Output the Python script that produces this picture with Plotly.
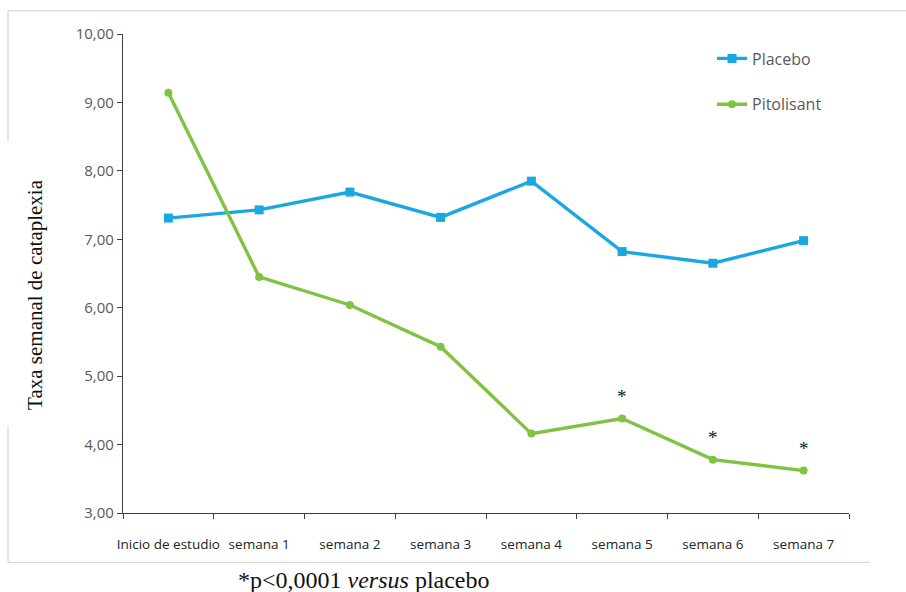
import plotly.graph_objects as go

# Weekly cataplexy rate by study visit
semanas = ["Inicio de estudio", "semana 1", "semana 2", "semana 3",
           "semana 4", "semana 5", "semana 6", "semana 7"]
placebo = [7.31, 7.43, 7.69, 7.32, 7.85, 6.82, 6.65, 6.98]
pitolisant = [9.14, 6.45, 6.04, 5.43, 4.16, 4.38, 3.78, 3.62]

# visits with p<0,0001 versus placebo
significativo = ["semana 5", "semana 6", "semana 7"]

W, H = 906, 592
L, R, T, B = 123, 57, 33.5, 78.5
pw, ph = W - L - R, H - T - B


def px(x):
    return (x - L) / pw


def py(y):
    return (H - B - y) / ph


AZUL = "#1AA7E2"
VERDE = "#80C242"
GRIS = "#595959"

fig = go.Figure()
fig.add_trace(go.Scatter(
    x=semanas, y=placebo, name="Placebo", legendgroup="a",
    mode="lines+markers",
    line=dict(color=AZUL, width=3.4),
    marker=dict(symbol="square", size=9, color=AZUL),
))
fig.add_trace(go.Scatter(
    x=semanas, y=pitolisant, name="Pitolisant", legendgroup="b",
    mode="lines+markers",
    line=dict(color=VERDE, width=3.4),
    marker=dict(symbol="circle", size=8, color=VERDE),
))

# asterisks over the significant Pitolisant points
for s in significativo:
    i = semanas.index(s)
    fig.add_annotation(
        x=s, y=pitolisant[i], xref="x", yref="y",
        text="*", showarrow=False, yshift=22,
        font=dict(family="Liberation Serif", size=19, color="#111111"),
    )

# y-axis title
fig.add_annotation(
    x=px(21), y=py(295), xref="paper", yref="paper",
    text="Taxa semanal de cataplexia", textangle=-90, showarrow=False,
    font=dict(family="Liberation Serif", size=21, color="#111111"),
    bgcolor="white",
)

# footnote
fig.add_annotation(
    x=px(236), y=py(581), xref="paper", yref="paper",
    xanchor="left", yanchor="middle",
    text="*p&lt;0,0001 <i>versus</i> placebo", showarrow=False,
    font=dict(family="Liberation Serif", size=24, color="#111111"),
)

# light frame around the chart
borde = dict(color="#D9D9D9", width=1.3)
for x0, y0, x1, y1 in [(8, 10, 906, 10), (8, 10, 8, 141),
                       (8, 426, 8, 563), (8, 563, 870, 563)]:
    fig.add_shape(type="line", xref="paper", yref="paper",
                  x0=px(x0), y0=py(y0), x1=px(x1), y1=py(y1), line=borde)

fig.update_layout(
    width=W, height=H,
    margin=dict(l=L, r=R, t=T, b=B, autoexpand=False),
    paper_bgcolor="white", plot_bgcolor="white",
    separators=",.",
    font=dict(family="Open Sans", color=GRIS, size=13),
    showlegend=True,
    legend=dict(
        x=px(712), y=py(41), xanchor="left", yanchor="top",
        bgcolor="rgba(0,0,0,0)", tracegroupgap=22,
        font=dict(family="Open Sans", size=16, color=GRIS),
    ),
)
fig.update_xaxes(
    type="category", range=[-0.5, len(semanas) - 0.5],
    showgrid=False, showline=True, linecolor="#404040", linewidth=1.3,
    ticks="outside", tickson="boundaries", ticklen=5, tickcolor="#404040",
    tickangle=0, automargin=False,
    tickfont=dict(family="Open Sans", size=13.5, color="#222222"),
    ticklabelstandoff=19,
)
fig.update_yaxes(
    range=[3, 10], dtick=1, tickformat=".2f", automargin=False,
    showgrid=False, showline=True, linecolor="#404040", linewidth=1.3,
    ticks="outside", ticklen=5, tickcolor="#404040",
    tickfont=dict(family="Open Sans", size=15, color=GRIS),
    zeroline=False,
)

fig.write_html("out.html")
